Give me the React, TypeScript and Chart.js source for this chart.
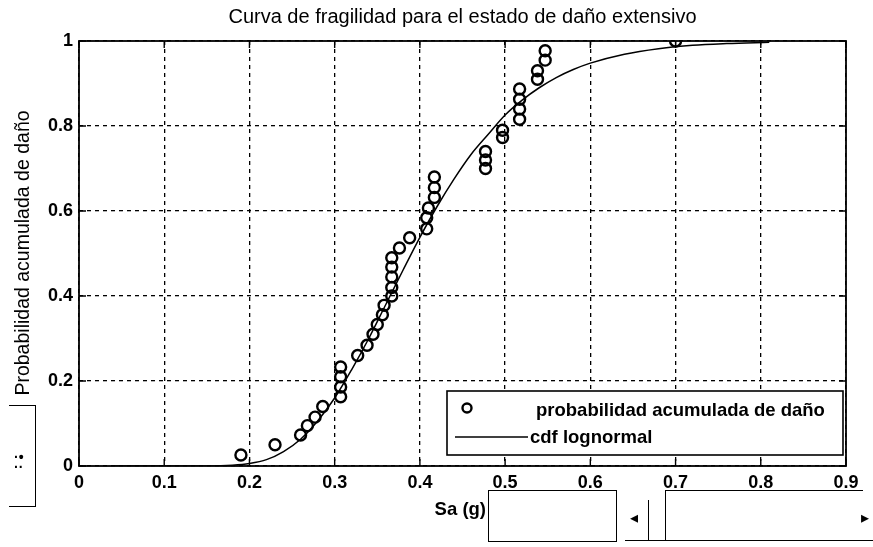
import React, { useEffect, useRef } from "react";
import { Chart, registerables } from "chart.js";

Chart.register(...registerables);

const TITLE = "Curva de fragilidad para el estado de daño extensivo";
const X_LABEL = "Sa (g)";
const Y_LABEL = "Probabilidad acumulada de daño";
const SERIES_POINTS = "probabilidad acumulada de daño";
const SERIES_CURVE = "cdf lognormal";

const X_TICKS = ["0", "0.1", "0.2", "0.3", "0.4", "0.5", "0.6", "0.7", "0.8", "0.9"];
const Y_TICKS = ["0", "0.2", "0.4", "0.6", "0.8", "1"];

const obsSa = [
  0.19, 0.23, 0.26, 0.268, 0.277, 0.286, 0.307, 0.307, 0.307, 0.307,
  0.327, 0.338, 0.345, 0.35, 0.356, 0.358, 0.367, 0.367, 0.367, 0.367,
  0.367, 0.376, 0.388, 0.408, 0.408, 0.41, 0.417, 0.417, 0.417, 0.477,
  0.477, 0.477, 0.497, 0.497, 0.517, 0.517, 0.517, 0.517, 0.538, 0.538,
  0.547, 0.547, 0.70,
];
const obsP = [
  0.026, 0.05, 0.073, 0.095, 0.115, 0.14, 0.163, 0.186, 0.21, 0.233,
  0.26, 0.284, 0.31, 0.333, 0.356, 0.378, 0.40, 0.42, 0.445, 0.468,
  0.49, 0.513, 0.537, 0.558, 0.584, 0.607, 0.632, 0.655, 0.68, 0.70,
  0.72, 0.74, 0.773, 0.79, 0.816, 0.84, 0.863, 0.887, 0.91, 0.93,
  0.955, 0.977, 1.0,
];

const curveSa = [
  0.04, 0.10, 0.15, 0.18, 0.20, 0.22, 0.24, 0.26, 0.28, 0.30,
  0.32, 0.34, 0.36, 0.38, 0.40, 0.42, 0.44, 0.46, 0.48, 0.50,
  0.52, 0.54, 0.56, 0.58, 0.60, 0.64, 0.68, 0.72, 0.76, 0.81,
];
const curveP = [
  0.0, 0.0, 0.0002, 0.002, 0.006, 0.015, 0.034, 0.063, 0.106, 0.16,
  0.227, 0.30, 0.38, 0.46, 0.538, 0.61, 0.675, 0.733, 0.78, 0.826,
  0.861, 0.89, 0.914, 0.933, 0.948, 0.969, 0.982, 0.99, 0.994, 0.997,
];

const FONT = '"Liberation Sans", Arial, sans-serif';

const overlay = {
  id: "matlabOverlay",
  afterDraw(chart: any) {
    const ctx = chart.ctx;
    const a = chart.chartArea;
    const xs = chart.scales.x;
    const ys = chart.scales.y;
    ctx.save();
    ctx.fillStyle = "#000";
    ctx.strokeStyle = "#000";

    // box
    ctx.lineWidth = 1.8;
    ctx.setLineDash([]);
    ctx.strokeRect(a.left, a.top, a.right - a.left, a.bottom - a.top);

    // inward ticks
    ctx.lineWidth = 1.4;
    X_TICKS.forEach((t) => {
      const px = xs.getPixelForValue(parseFloat(t));
      ctx.beginPath();
      ctx.moveTo(px, a.bottom);
      ctx.lineTo(px, a.bottom - 7);
      ctx.moveTo(px, a.top);
      ctx.lineTo(px, a.top + 7);
      ctx.stroke();
    });
    Y_TICKS.forEach((t) => {
      const py = ys.getPixelForValue(parseFloat(t));
      ctx.beginPath();
      ctx.moveTo(a.left, py);
      ctx.lineTo(a.left + 7, py);
      ctx.moveTo(a.right, py);
      ctx.lineTo(a.right - 7, py);
      ctx.stroke();
    });

    // title
    ctx.font = `20px ${FONT}`;
    ctx.textAlign = "center";
    ctx.textBaseline = "middle";
    ctx.fillText(TITLE, (a.left + a.right) / 2, 17);

    // x label
    ctx.font = `bold 18.5px ${FONT}`;
    ctx.textAlign = "right";
    ctx.fillText(X_LABEL, 486, 510);

    // y label
    ctx.save();
    ctx.translate(24, 253);
    ctx.rotate(-Math.PI / 2);
    ctx.textAlign = "center";
    ctx.font = `19.5px ${FONT}`;
    ctx.fillText(Y_LABEL, 0, 0);
    ctx.restore();

    // legend
    const lx = 447, ly = 391, lw = 396, lh = 64;
    ctx.fillStyle = "#fff";
    ctx.fillRect(lx, ly, lw, lh);
    ctx.lineWidth = 1.6;
    ctx.strokeRect(lx, ly, lw, lh);
    ctx.fillStyle = "#000";
    ctx.beginPath();
    ctx.lineWidth = 2.4;
    ctx.arc(467, 408, 4.5, 0, Math.PI * 2);
    ctx.stroke();
    ctx.font = `bold 18.5px ${FONT}`;
    ctx.textAlign = "left";
    ctx.fillText(SERIES_POINTS, 536, 411);
    ctx.lineWidth = 1.4;
    ctx.beginPath();
    ctx.moveTo(455, 437);
    ctx.lineTo(528, 437);
    ctx.stroke();
    ctx.fillText(SERIES_CURVE, 530, 438);

    ctx.restore();
  },
};

export default function App() {
  const ref = useRef<HTMLCanvasElement>(null);

  useEffect(() => {
    if (!ref.current) return;
    const chart = new Chart(ref.current, {
      type: "scatter",
      data: {
        datasets: [
          {
            label: SERIES_CURVE,
            type: "line",
            data: curveSa.map((x, i) => ({ x, y: curveP[i] })),
            borderColor: "#000",
            borderWidth: 1.5,
            pointRadius: 0,
            cubicInterpolationMode: "monotone",
            fill: false,
          } as any,
          {
            label: SERIES_POINTS,
            data: obsSa.map((x, i) => ({ x, y: obsP[i] })),
            pointStyle: "circle",
            pointRadius: 5.5,
            pointBorderWidth: 2.4,
            borderColor: "#000",
            backgroundColor: "rgba(0,0,0,0)",
            pointBackgroundColor: "rgba(0,0,0,0)",
            pointBorderColor: "#000",
          } as any,
        ],
      },
      options: {
        animation: false,
        responsive: false,
        maintainAspectRatio: false,
        layout: { padding: { left: 0, right: 27, top: 41, bottom: 0 } },
        plugins: {
          legend: { display: false },
          title: { display: false },
          tooltip: { enabled: false },
        },
        scales: {
          x: {
            type: "linear",
            min: 0,
            max: 0.9,
            afterFit: (s: any) => {
              s.height = 81;
            },
            afterBuildTicks: (s: any) => {
              s.ticks = X_TICKS.map((t) => ({ value: parseFloat(t) }));
            },
            ticks: {
              color: "#000",
              font: { family: FONT, size: 18, weight: "bold" },
              padding: 6,
              maxRotation: 0,
              callback: (_v: any, i: number) => X_TICKS[i],
            },
            grid: { color: "#000", lineWidth: 1.3, drawTicks: false },
            border: { display: false, dash: [4, 4] },
          },
          y: {
            type: "linear",
            min: 0,
            max: 1,
            afterFit: (s: any) => {
              s.width = 79;
            },
            afterBuildTicks: (s: any) => {
              s.ticks = Y_TICKS.map((t) => ({ value: parseFloat(t) }));
            },
            ticks: {
              color: "#000",
              font: { family: FONT, size: 18, weight: "bold" },
              padding: 6,
              callback: (_v: any, i: number) => Y_TICKS[i],
            },
            grid: { color: "#000", lineWidth: 1.3, drawTicks: false },
            border: { display: false, dash: [4, 4] },
          },
        },
      },
      plugins: [overlay],
    });
    return () => chart.destroy();
  }, []);

  return (
    <div style={{ position: "absolute", left: 0, top: 0, width: 873, height: 547, background: "#fff" }}>
      <canvas ref={ref} width={873} height={547} style={{ position: "absolute", left: 0, top: 0 }} />
      {/* left artifact box */}
      <div style={{ position: "absolute", left: 9, top: 405, width: 26, height: 100, borderTop: "1.5px solid #000", borderRight: "1.5px solid #000", borderBottom: "1.5px solid #000" }} />
      <div style={{ position: "absolute", left: 14, top: 452, fontFamily: FONT, fontSize: 14, fontWeight: "bold", lineHeight: "10px", color: "#000" }}>
        ·•<br />··
      </div>
      {/* edit box */}
      <div style={{ position: "absolute", left: 488, top: 490, width: 127, height: 50, border: "1.5px solid #000", background: "#fff" }} />
      {/* slider */}
      <div style={{ position: "absolute", left: 665, top: 490, width: 198, height: 0, borderTop: "1.5px solid #000" }} />
      <div style={{ position: "absolute", left: 625, top: 540, width: 248, height: 0, borderTop: "1.5px solid #000" }} />
      <div style={{ position: "absolute", left: 648, top: 500, width: 0, height: 40, borderLeft: "1.5px solid #000" }} />
      <div style={{ position: "absolute", left: 665, top: 490, width: 0, height: 50, borderLeft: "1.5px solid #000" }} />
      <div style={{ position: "absolute", left: 630, top: 508, fontFamily: FONT, fontSize: 16, color: "#000" }}>◂</div>
      <div style={{ position: "absolute", left: 861, top: 508, fontFamily: FONT, fontSize: 16, color: "#000" }}>▸</div>
    </div>
  );
}
